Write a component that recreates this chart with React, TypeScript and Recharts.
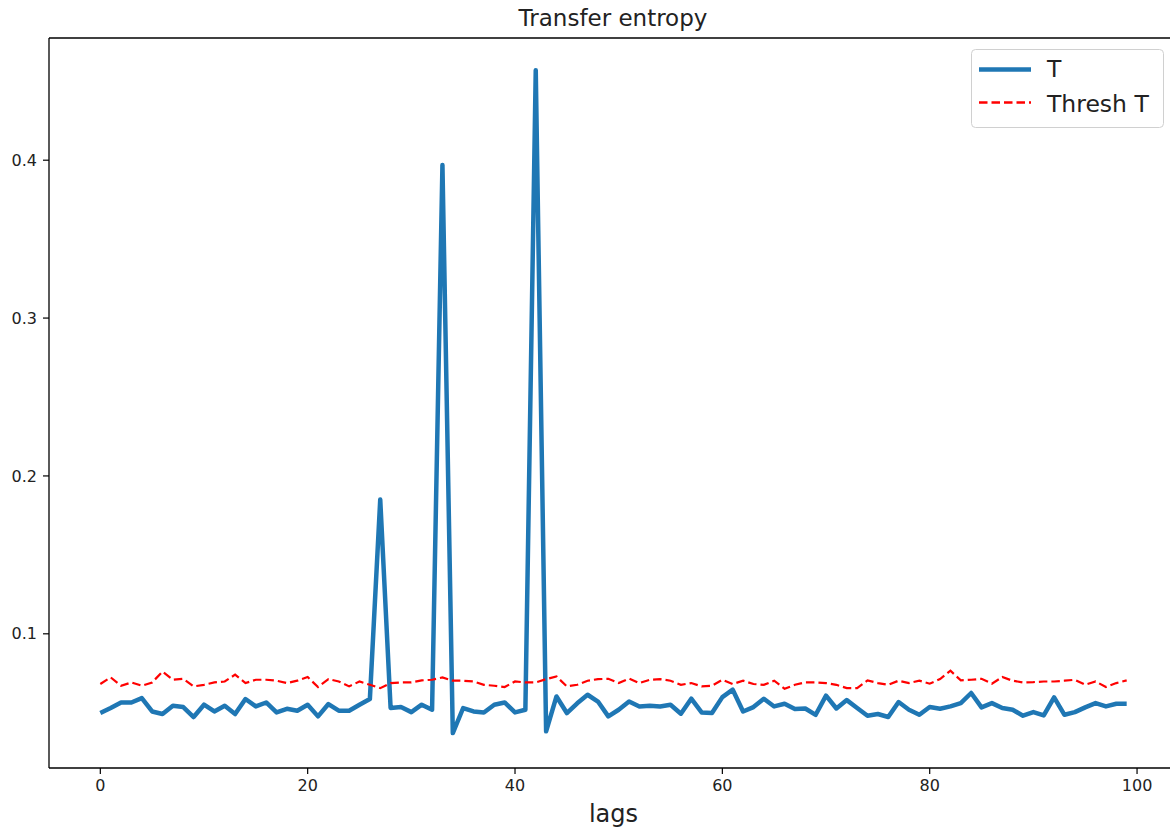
import React from "react";
import { LineChart, Line, XAxis, YAxis, Legend, ReferenceLine } from "recharts";

// transfer entropy per lag
const tValues = [
  0.0498, 0.053, 0.0565, 0.0565, 0.0593, 0.0508, 0.0492, 0.0544, 0.0536, 0.0473,
  0.0551, 0.0508, 0.0544, 0.0492, 0.0587, 0.054, 0.0565, 0.0502, 0.0525, 0.0513,
  0.0551, 0.0477, 0.0555, 0.0513, 0.0513, 0.0551, 0.0587, 0.185, 0.053, 0.0536,
  0.0504, 0.0551, 0.0519, 0.397, 0.0371, 0.053, 0.0508, 0.0502, 0.0551, 0.0565,
  0.0502, 0.0519, 0.457, 0.0382, 0.0603, 0.0498, 0.056, 0.0614, 0.0571, 0.0477,
  0.0519, 0.0571, 0.054, 0.0544, 0.054, 0.0551, 0.0494, 0.0589, 0.0502, 0.0498,
  0.0599, 0.0646, 0.0508, 0.0536, 0.0589, 0.054, 0.0557, 0.0523, 0.0527, 0.0487,
  0.0608, 0.0527, 0.058, 0.053, 0.0481, 0.0492, 0.0473, 0.0568, 0.0519, 0.0487,
  0.0536, 0.0525, 0.054, 0.0561, 0.0625, 0.0534, 0.0561, 0.053, 0.0519, 0.0481,
  0.0504, 0.0483, 0.0597, 0.0487, 0.0504, 0.0534, 0.0561, 0.054, 0.0557, 0.0557,
];

// significance threshold per lag
const threshValues = [
  0.0682, 0.0724, 0.0671, 0.0692, 0.0671, 0.0692, 0.0761, 0.0709, 0.0715, 0.0667,
  0.0677, 0.0692, 0.0698, 0.0741, 0.0688, 0.0709, 0.0709, 0.0703, 0.0688, 0.0703,
  0.0726, 0.0663, 0.0713, 0.0698, 0.0667, 0.0698, 0.0677, 0.0656, 0.0688, 0.0692,
  0.0692, 0.0705, 0.0709, 0.0724, 0.0703, 0.0703, 0.0698, 0.0677, 0.0671, 0.0663,
  0.0698, 0.0692, 0.0692, 0.0713, 0.073, 0.0667, 0.0677, 0.0703, 0.0713, 0.0715,
  0.0688, 0.0717, 0.0688, 0.0709, 0.0713, 0.0703, 0.0677, 0.0688, 0.0667, 0.0671,
  0.0709, 0.0682, 0.0703, 0.0682, 0.0677, 0.0703, 0.0652, 0.0677, 0.0692, 0.0692,
  0.0688, 0.0677, 0.0656, 0.0656, 0.0705, 0.0688, 0.0677, 0.0703, 0.0688, 0.0703,
  0.0684, 0.0713, 0.0766, 0.0705, 0.0709, 0.0715, 0.0684, 0.0726, 0.0703, 0.0692,
  0.0694, 0.0698, 0.0698, 0.0703, 0.0709, 0.0677, 0.0698, 0.0663, 0.0688, 0.0705,
];

const xTicks = [0, 20, 40, 60, 80, 100];
const yTicks = [0.1, 0.2, 0.3, 0.4];
const xDomain = [-4.95, 103.95];
const yDomain = [0.015, 0.4774];

const data = tValues.map((t, i) => ({ lag: i, T: t, thresh: threshValues[i] }));

const font = "'DejaVu Sans', sans-serif";
const tickStyle = { fill: "#222", fontSize: 16, fontFamily: font };
const BLUE = "#1f77b4";
const RED = "#ff0000";

const LegendBox = () => (
  <svg width={194} height={80} style={{ display: "block" }}>
    <rect x={0.5} y={0.5} width={192} height={78} rx={4} fill="#fff" fillOpacity={0.8} stroke="#d0d0d0" />
    <line x1={8} x2={60} y1={20.5} y2={20.5} stroke={BLUE} strokeWidth={4.5} />
    <text x={76} y={27.5} fontSize={23.5} fontFamily={font} fill="#222">T</text>
    <line x1={8} x2={60} y1={53.5} y2={53.5} stroke={RED} strokeWidth={2.3} strokeDasharray="8.5 4" />
    <text x={76} y={62.5} fontSize={23.5} fontFamily={font} fill="#222">Thresh T</text>
  </svg>
);

export default function App() {
  return (
    <div style={{ position: "absolute", left: 0, top: 0, width: 1170, height: 830, overflow: "hidden", background: "#fff", fontFamily: font }}>
      <LineChart width={1200} height={830} data={data} margin={{ top: 38, right: 22, left: 0, bottom: 0 }}>
        <text x={613} y={26} textAnchor="middle" fontSize={23} fontFamily={font} fill="#222">Transfer entropy</text>
        <XAxis
          dataKey="lag" type="number" domain={xDomain} ticks={xTicks} height={62}
          tick={tickStyle} tickSize={6} tickMargin={6}
          stroke="#000" strokeWidth={1.3} tickLine={{ stroke: "#000", strokeWidth: 1.2 }}
          label={{ value: "lags", position: "insideBottom", offset: 8, fontSize: 24, fontFamily: font, fill: "#222" }}
        />
        <YAxis
          type="number" domain={yDomain} ticks={yTicks} width={49}
          tick={tickStyle} tickSize={6} tickMargin={6} tickFormatter={(v: number) => `${v}`}
          stroke="#000" strokeWidth={1.3} tickLine={{ stroke: "#000", strokeWidth: 1.2 }}
        />
        {/* top spine */}
        <ReferenceLine y={yDomain[1]} stroke="#000" strokeWidth={1.3} ifOverflow="visible" />
        <Legend
          layout="horizontal" verticalAlign="middle" align="center"
          content={() => <LegendBox />}
          wrapperStyle={{ position: "absolute", left: 971, top: 49, width: 194, height: 80 }}
        />
        <Line dataKey="T" name="T" stroke={BLUE} strokeWidth={4.5} dot={false} strokeLinejoin="round" isAnimationActive={false} />
        <Line dataKey="thresh" name="Thresh T" stroke={RED} strokeWidth={2.2} strokeDasharray="8.5 4" dot={false} isAnimationActive={false} />
      </LineChart>
    </div>
  );
}
